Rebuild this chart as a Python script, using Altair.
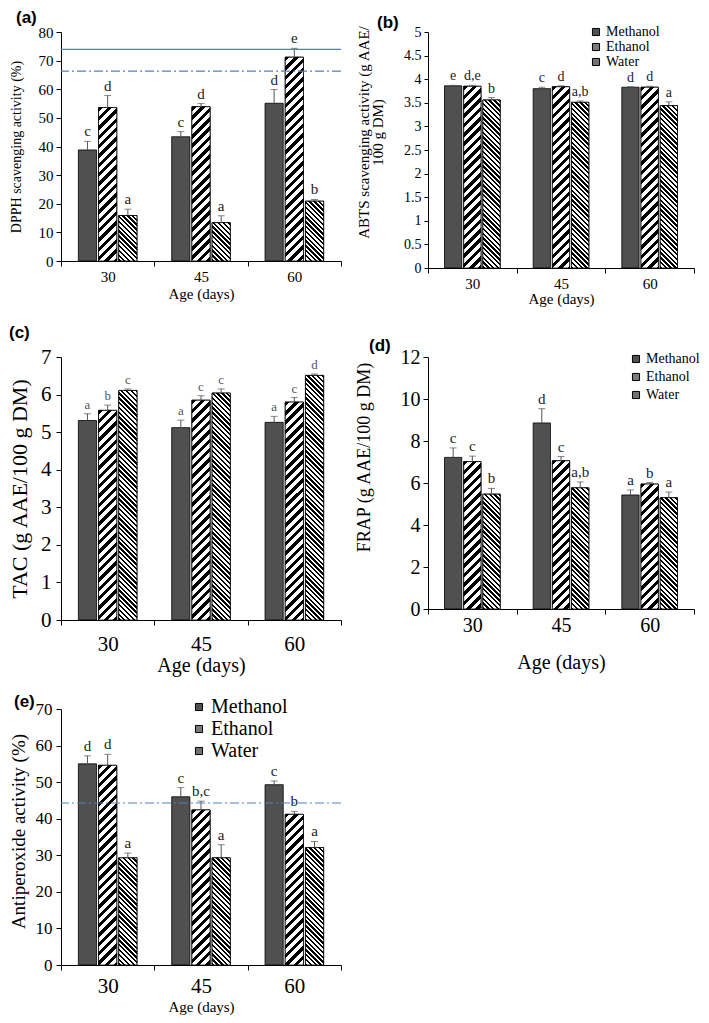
import math
import altair as alt
import pandas as pd

AGES = ["30", "45", "60"]
SOLVENTS = ["Methanol", "Ethanol", "Water"]

# (a) DPPH scavenging activity (%)
DPPH_MEAN = [38.8, 53.6, 15.9, 43.4, 53.9, 13.4, 55.1, 71.2, 20.9]
DPPH_ERR = [3.0, 4.2, 2.2, 1.8, 1.1, 2.4, 4.8, 3.1, 0.6]
DPPH_SIG = ["c", "d", "a", "c", "d", "a", "d", "e", "b"]
DPPH_LINES = [73.9, 66.3]

# (b) ABTS scavenging activity
ABTS_MEAN = [3.86, 3.85, 3.56, 3.80, 3.84, 3.51, 3.83, 3.83, 3.44]
ABTS_ERR = [0.01, 0.02, 0.05, 0.03, 0.02, 0.03, 0.01, 0.02, 0.08]
ABTS_SIG = ["e", "d,e", "b", "c", "d", "a,b", "d", "d", "a"]

# (c) TAC
TAC_MEAN = [5.31, 5.58, 6.11, 5.12, 5.85, 6.04, 5.26, 5.80, 6.51]
TAC_ERR = [0.18, 0.14, 0.04, 0.20, 0.12, 0.11, 0.16, 0.12, 0.04]
TAC_SIG = ["a", "b", "c", "a", "c", "c", "a", "c", "d"]

# (d) FRAP
FRAP_MEAN = [7.22, 7.02, 5.47, 8.86, 7.06, 5.77, 5.43, 5.95, 5.30]
FRAP_ERR = [0.45, 0.26, 0.27, 0.68, 0.20, 0.28, 0.24, 0.07, 0.27]
FRAP_SIG = ["c", "c", "b", "d", "c", "a,b", "a", "b", "a"]

# (e) Antiperoxide activity (%)
ANTI_MEAN = [55.0, 54.6, 29.3, 46.0, 42.4, 29.3, 49.3, 41.2, 32.1]
ANTI_ERR = [2.2, 3.0, 1.3, 2.5, 2.4, 3.6, 1.0, 0.8, 1.7]
ANTI_SIG = ["d", "d", "a", "c", "b,c", "a", "c", "b", "a"]
ANTI_LINES = [44.3]

SERIF = "Liberation Serif"
SANS = "Liberation Sans"
FILLS = ["#505050", "#7a7a7a", "#707070"]
ERRC = "#555555"
BLUE = "#4F81BD"

X_PAD_OUTER = 0.86
X_PAD_INNER = 0.1


def stripe_fill(w, h, period, frac, forward):
    """Hatched fill built from a hard-stop linear gradient (45 degree stripes)."""
    h = max(h, 1.0)
    L = (w + h) / math.sqrt(2)
    n = max(L / period, 1.0)
    k = (w + h) / (w * w + h * h)
    if forward:
        x1, y1, x2, y2 = 0, 0, k * w, k * h
    else:
        x1, y1, x2, y2 = 0, 1, k * w, 1 - k * h
    stops = []
    i = 0
    while i / n < 1:
        a = i / n
        b = min((i + frac) / n, 1.0)
        c = min((i + 1) / n, 1.0)
        stops += [(a, "black"), (b, "black"), (b, "white"), (c, "white")]
        i += 1
    return alt.LinearGradient(
        gradient="linear",
        stops=[alt.GradientStop(offset=round(o, 5), color=col) for o, col in stops],
        x1=x1, y1=y1, x2=round(x2, 5), y2=round(y2, 5),
    )


def panel(label, means, errs, sig, ymax, yvalues, yfmt, ytitle, W, H, st,
          legend=None, lines=None, line_dash=None):
    df = pd.DataFrame({
        "Age": [a for a in AGES for _ in SOLVENTS],
        "Solvent": SOLVENTS * 3,
        "Value": means,
        "Err": errs,
        "Sig": sig,
    })
    df["Hi"] = df["Value"] + df["Err"]

    xs = alt.Scale(domain=AGES, paddingInner=0, paddingOuter=0)
    xo = alt.Scale(domain=SOLVENTS, paddingInner=X_PAD_INNER, paddingOuter=X_PAD_OUTER)
    ys = alt.Scale(domain=[0, ymax], nice=False, zero=True)

    xaxis = alt.Axis(
        tickBand="extent", labelAngle=0, tickSize=5, labelFontSize=st["xlab"],
        titleFontSize=st["xtitle"], labelPadding=st["xlp"], titlePadding=st["xtp"],
    )
    yargs = dict(
        values=yvalues, format=yfmt, tickSize=st.get("ytick", 5), labelFontSize=st["ylab"],
        titleFontSize=st["ytitle"], labelPadding=st["ylp"], titlePadding=st["ytp"],
        titleLineHeight=st.get("tlh", st["ytitle"]),
    )
    if "ty" in st:
        yargs["titleY"] = st["ty"]
    yaxis = alt.Axis(**yargs)
    X = alt.X("Age:N", scale=xs, axis=xaxis, sort=AGES, title="Age (days)")
    XO = alt.XOffset("Solvent:N", scale=xo, sort=SOLVENTS)

    def Y(field):
        return alt.Y(f"{field}:Q", scale=ys, axis=yaxis, stack=None, title=ytitle)

    color = alt.Color("Solvent:N", scale=alt.Scale(domain=SOLVENTS, range=FILLS),
                      legend=legend)
    base = alt.Chart(df).mark_bar(stroke="black", strokeWidth=0.8).encode(
        x=X, xOffset=XO, y=Y("Value"), color=color)

    band = W / 3.0
    step = band / (3 - X_PAD_INNER + 2 * X_PAD_OUTER)
    bw = step * (1 - X_PAD_INNER)
    layers = [base]
    for i, row in df.iterrows():
        if row["Solvent"] == "Methanol":
            continue
        h = row["Value"] / ymax * H
        if row["Solvent"] == "Ethanol":
            grad = stripe_fill(bw, h, 6.6, 0.47, True)
        else:
            grad = stripe_fill(bw, h, 3.4, 0.5, False)
        layers.append(
            alt.Chart(df.iloc[[i]]).mark_bar(fill=grad, stroke="black", strokeWidth=0.8)
            .encode(x=X, xOffset=XO, y=Y("Value"))
        )

    rule = alt.Chart(df).mark_rule(color=ERRC, strokeWidth=1).encode(
        x=X, xOffset=XO, y=Y("Value"), y2=alt.Y2("Hi:Q"))
    cap = alt.Chart(df).mark_tick(color=ERRC, thickness=1, size=7).encode(
        x=X, xOffset=XO, y=Y("Hi"))
    txt = alt.Chart(df).mark_text(baseline="bottom", dy=-2, font=SERIF,
                                  fontSize=st["sig"], color=st.get("sigc", "#222")).encode(
        x=X, xOffset=XO, y=Y("Hi"), text="Sig:N")
    layers += [rule, cap, txt]

    if lines:
        for v, dash in zip(lines, line_dash):
            ldf = pd.DataFrame({"Value": [v]})
            mk = {"color": BLUE, "strokeWidth": 1.2}
            if dash:
                mk["strokeDash"] = dash
            layers.append(alt.Chart(ldf).mark_rule(**mk).encode(y=Y("Value")))

    return alt.layer(*layers).properties(
        width=W, height=H,
        title=alt.TitleParams(
            text=label, anchor="start", frame="group", dx=st["tdx"], offset=st["toff"],
            font=SANS, fontSize=17, fontWeight="bold", color="black", baseline="bottom",
        ),
    )


def leg(x, y, size, rowpad, loff=3):
    return alt.Legend(
        title=None, orient="none", legendX=x, legendY=y, symbolType="square",
        symbolSize=50, symbolStrokeColor="black", symbolStrokeWidth=1,
        labelFont=SERIF, labelFontSize=size, labelColor="black", labelOffset=loff,
        rowPadding=rowpad, padding=0, offset=0,
    )


WL, WR = 280, 266

pa = panel("(a)", DPPH_MEAN, DPPH_ERR, DPPH_SIG, 80, list(range(0, 81, 10)), "d",
           "DPPH scavenging activity (%)", WL, 229,
           dict(ylab=15, ytitle=14, ytp=15, ylp=3, xlab=15, xtitle=15, xlp=3, xtp=2,
                sig=15, tdx=-45, toff=-19),
           lines=DPPH_LINES, line_dash=[None, [9, 3, 2, 3]])

pb = panel("(b)", ABTS_MEAN, ABTS_ERR, ABTS_SIG, 5, [i * 0.5 for i in range(11)], "~g",
           ["ABTS scavenging activity (g AAE/", "100 g DM)"], WR, 236,
           dict(ylab=14, ytitle=15, ytp=18, ylp=3, ytick=4, tlh=14, ty=100, xlab=15,
                xtitle=15, xlp=3, xtp=0, sig=14, tdx=-51, toff=-23.5),
           legend=leg(161, -7, 14, 1))

pc = panel("(c)", TAC_MEAN, TAC_ERR, TAC_SIG, 7, list(range(0, 8)), "d",
           "TAC (g AAE/100 g DM)", WL, 263,
           dict(ylab=21, ytitle=22, ytp=9, ylp=5, xlab=21, xtitle=20, xlp=8, xtp=1,
                sig=13, sigc="#555555", tdx=-52, toff=-12.5))

pd_ = panel("(d)", FRAP_MEAN, FRAP_ERR, FRAP_SIG, 12, list(range(0, 13, 2)), "d",
            "FRAP (g AAE/100 g DM)", WR, 252,
            dict(ylab=20, ytitle=18, ytp=27, ylp=3, ty=100, xlab=20, xtitle=20, xlp=1,
                 xtp=17, sig=15, tdx=-59, toff=-24.5),
            legend=leg(201, -5, 14, 4))

pe = panel("(e)", ANTI_MEAN, ANTI_ERR, ANTI_SIG, 70, list(range(0, 71, 10)), "d",
           "Antiperoxide activity (%)", WL, 256,
           dict(ylab=17, ytitle=19, ytp=7, ylp=4, ty=122, xlab=21, xtitle=15, xlp=5,
                xtp=3, sig=15, tdx=-47, toff=-30.5),
           legend=leg(128, -12, 20, 2, 2), lines=ANTI_LINES, line_dash=[[9, 3, 2, 3]])

chart = (
    alt.concat(pa, pb, pc, pd_, pe, columns=2, spacing={"row": 16, "column": 11})
    .resolve_scale(x="independent", y="independent", xOffset="independent",
                   color="independent")
    .resolve_legend(color="independent")
    .properties(padding=0)
    .configure_view(stroke="transparent")
    .configure_axis(
        labelFont=SERIF, titleFont=SERIF, labelColor="black", titleColor="black",
        titleFontWeight="normal", domainColor="black", tickColor="black", grid=False,
        labelFlush=False, labelOverlap=False, domainWidth=1, tickWidth=1,
    )
    .configure_legend(labelFont=SERIF, labelColor="black")
)

chart.save("out.html", embed_options={"renderer": "svg", "actions": False})
